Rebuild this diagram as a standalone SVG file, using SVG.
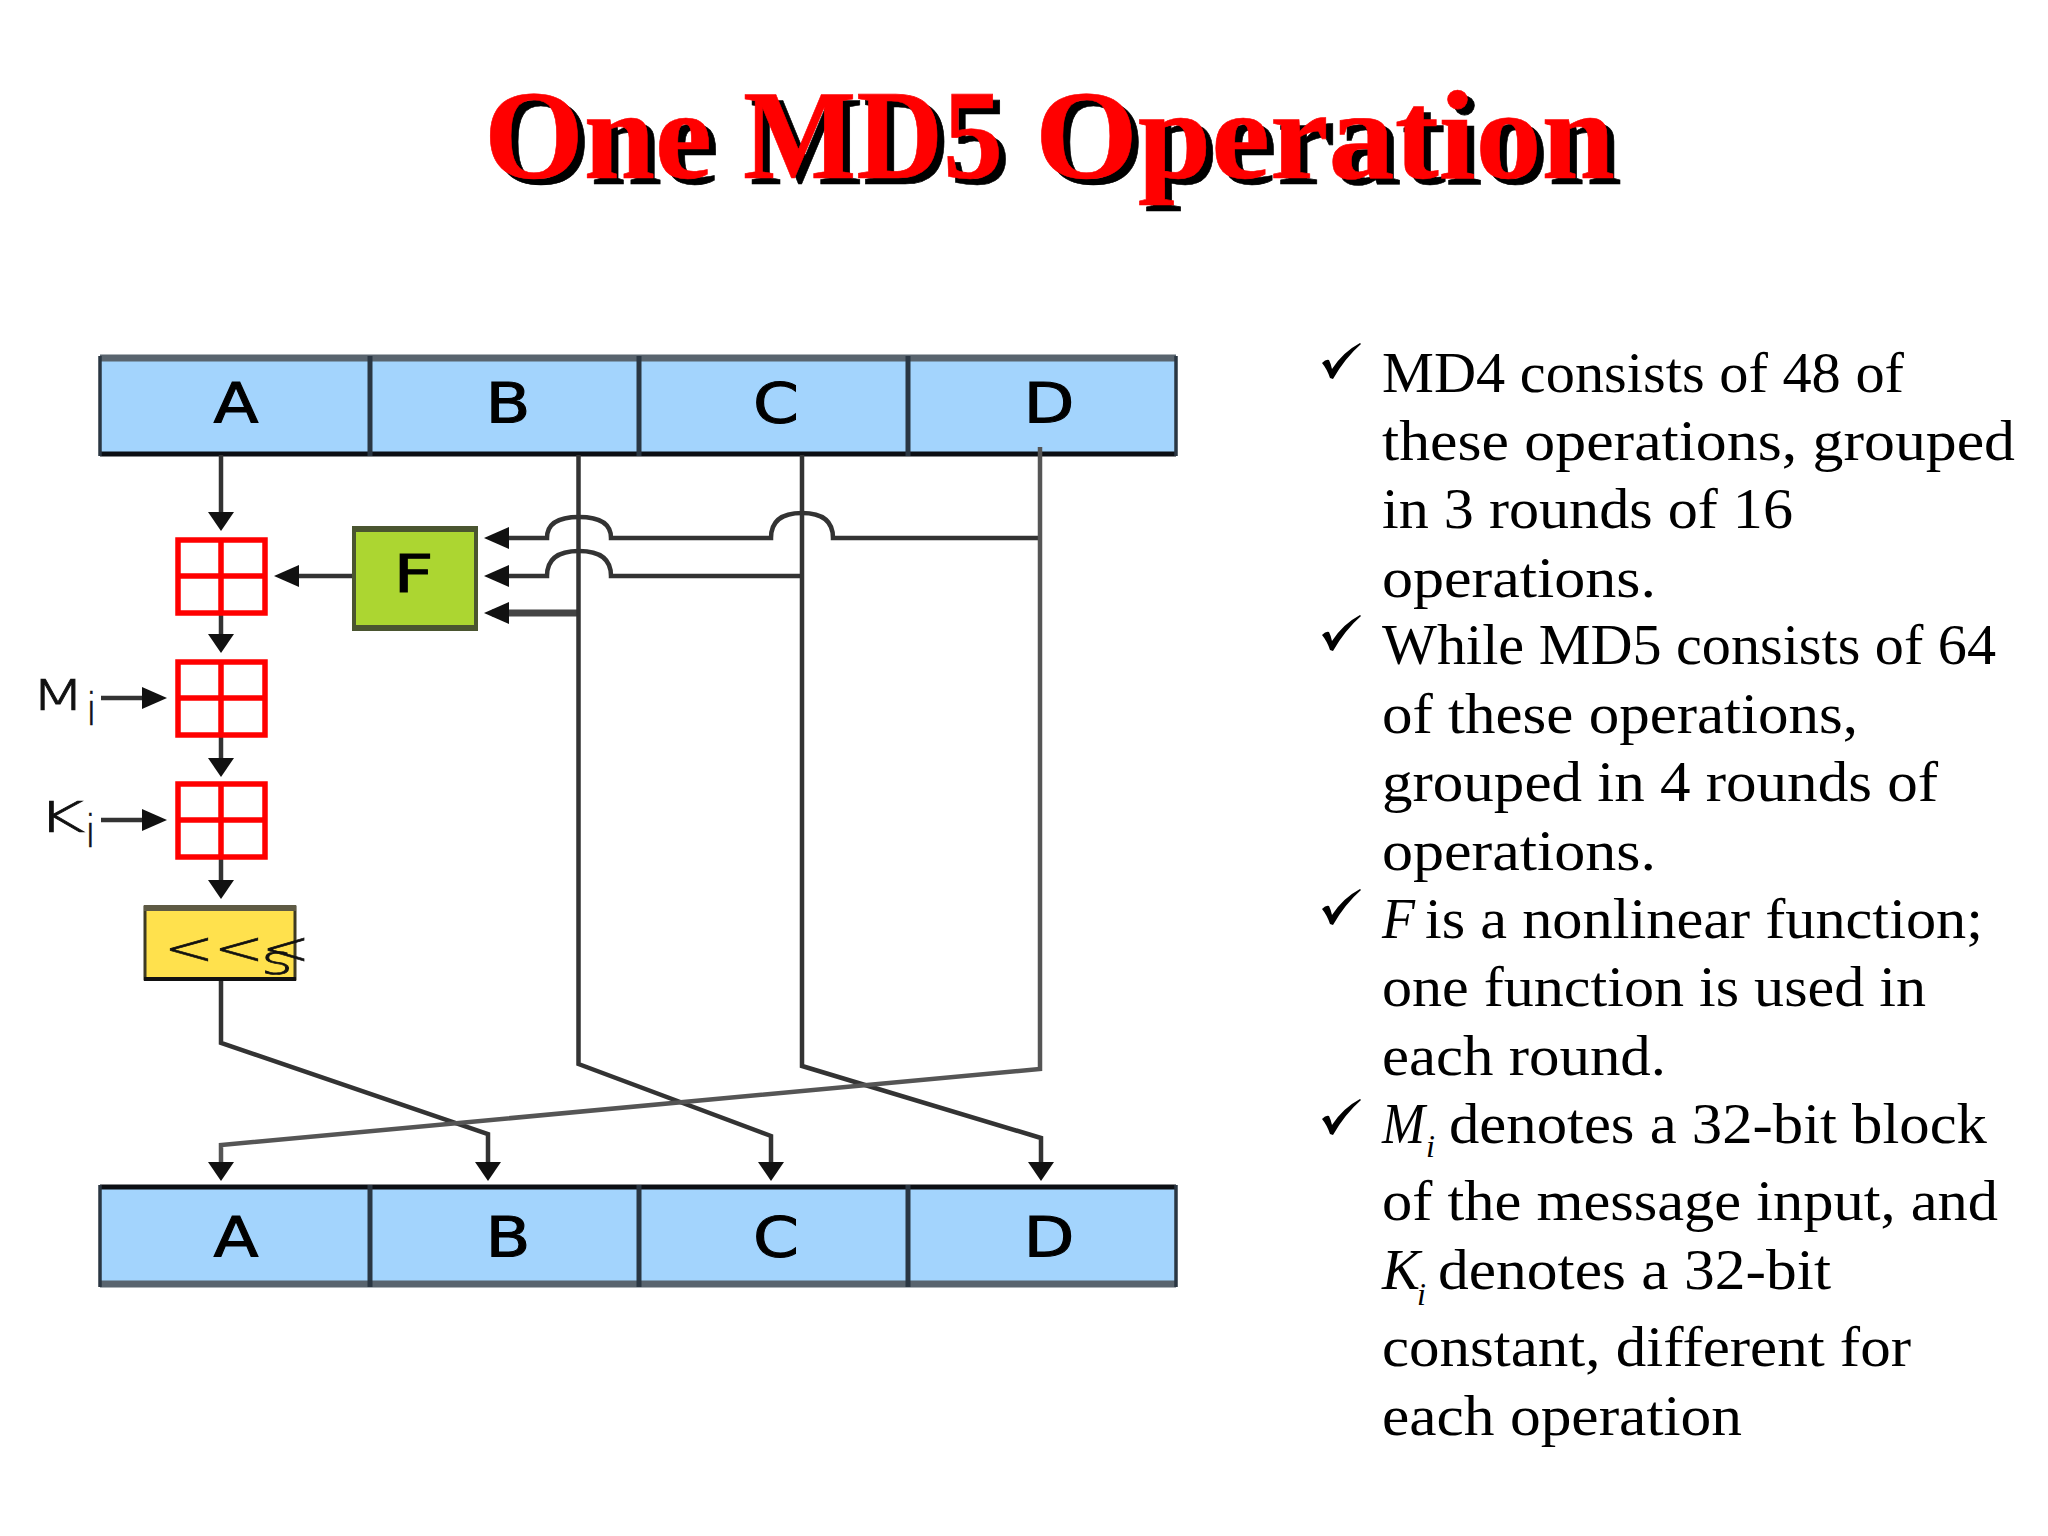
<svg xmlns="http://www.w3.org/2000/svg" width="2048" height="1536" viewBox="0 0 2048 1536">
<style>
.cell{fill:#a3d4fd}
.edgeD{stroke:#59646e;stroke-width:7;fill:none}
.edgeK{stroke:#0c0f14;stroke-width:5;fill:none}
.div{stroke:#2a3642;stroke-width:5;fill:none}
.lbl{font-family:"DejaVu Sans",sans-serif;font-size:55px;fill:#000;stroke:#000;stroke-width:1}
.thin{font-family:"DejaVu Sans",sans-serif;font-weight:200;fill:#111;stroke:#111;stroke-width:.7}
.adder{fill:#fff;stroke:#f00;stroke-width:5.500}
.adder2{fill:none;stroke:#f00;stroke-width:5.500}
.body{font-family:"Liberation Serif",serif;font-size:58px;fill:#000}
.it{font-style:italic}
.c{fill:none;stroke:#333;stroke-width:4.500}
.title{font-family:"Liberation Serif",serif;font-weight:bold;font-size:128px;fill:#f00;stroke:#f00;stroke-width:.6;filter:drop-shadow(7px 6px 0 #000)}
</style>
<defs>
<marker id="av" markerUnits="userSpaceOnUse" markerWidth="30" markerHeight="30" refX="11" refY="13" orient="auto" overflow="visible"><path d="M0 0L19 13L0 26Z" fill="#111"/></marker>
<marker id="ah" markerUnits="userSpaceOnUse" markerWidth="30" markerHeight="30" refX="17" refY="11" orient="auto" overflow="visible"><path d="M0 0L25 11L0 22Z" fill="#111"/></marker>
<path id="tick" d="M-9 -15Q-5 -19 -2 -18Q0 -14 1 -9Q12 -26 29 -35L30 -34Q14 -20 2 1L-1 0Q-4 -9 -9 -15Z" fill="#000"/>
</defs>
<rect width="2048" height="1536" fill="#fff"/>
<text id="title" class="title" y="178"><tspan x="484" textLength="228" lengthAdjust="spacingAndGlyphs">One</tspan> <tspan x="743" textLength="260" lengthAdjust="spacingAndGlyphs">MD5</tspan> <tspan x="1035" textLength="580" lengthAdjust="spacingAndGlyphs">Operation</tspan></text>

<g id="top-A"><rect class="cell" x="100" y="356" width="270" height="98"/><text class="lbl" x="213.500" y="422" textLength="45" lengthAdjust="spacingAndGlyphs">A</text></g>
<g id="top-B"><rect class="cell" x="370" y="356" width="269" height="98"/><text class="lbl" x="485.500" y="422" textLength="45" lengthAdjust="spacingAndGlyphs">B</text></g>
<g id="top-C"><rect class="cell" x="639" y="356" width="269" height="98"/><text class="lbl" x="753" y="422" textLength="46" lengthAdjust="spacingAndGlyphs">C</text></g>
<g id="top-D"><rect class="cell" x="908" y="356" width="268" height="98"/><text class="lbl" x="1023.500" y="422" textLength="51" lengthAdjust="spacingAndGlyphs">D</text></g>
<g id="top-frame">
<path class="edgeD" d="M100 358H1176"/><path class="edgeK" d="M100 454H1176"/>
<path class="div" d="M370 356V456M639 356V456M908 356V456"/>
<path class="div" style="stroke-width:3.500" d="M100 356V456M1176 356V456"/>
</g>

<g id="bottom-A"><rect class="cell" x="100" y="1186" width="270" height="98"/><text class="lbl" x="213.500" y="1256" textLength="45" lengthAdjust="spacingAndGlyphs">A</text></g>
<g id="bottom-B"><rect class="cell" x="370" y="1186" width="269" height="98"/><text class="lbl" x="485.500" y="1256" textLength="45" lengthAdjust="spacingAndGlyphs">B</text></g>
<g id="bottom-C"><rect class="cell" x="639" y="1186" width="269" height="98"/><text class="lbl" x="753" y="1256" textLength="46" lengthAdjust="spacingAndGlyphs">C</text></g>
<g id="bottom-D"><rect class="cell" x="908" y="1186" width="268" height="98"/><text class="lbl" x="1023.500" y="1256" textLength="51" lengthAdjust="spacingAndGlyphs">D</text></g>
<g id="bottom-frame">
<path class="edgeK" d="M100 1187H1176"/><path class="edgeD" d="M100 1284H1176"/>
<path class="div" d="M370 1185V1287M639 1185V1287M908 1185V1287"/>
<path class="div" style="stroke-width:3.500" d="M100 1185V1287M1176 1185V1287"/>
</g>

<g id="connectors">
<path class="c" d="M221 455V523" marker-end="url(#av)"/>
<path class="c" d="M221 614V645" marker-end="url(#av)"/>
<path class="c" d="M221 736V769" marker-end="url(#av)"/>
<path class="c" d="M221 858V891" marker-end="url(#av)"/>
<path class="c" d="M354 576H282" marker-end="url(#ah)"/>
<path class="c" d="M101 698H159" marker-end="url(#ah)"/>
<path class="c" d="M101 820H159" marker-end="url(#ah)"/>
<path class="c" d="M1040 538H833Q833 513 802 513Q771 513 771 538H611Q611 517 579 517Q547 517 547 538H492" marker-end="url(#ah)"/>
<path class="c" d="M802 576H611Q611 551 579 551Q547 551 547 576H492" marker-end="url(#ah)"/>
<path class="c" style="stroke:#444;stroke-width:7" d="M578 613H492" marker-end="url(#ah)"/>
<path class="c" d="M221 980V1043L488 1134V1173" marker-end="url(#av)"/>
<path class="c" d="M578.500 455V1064L771 1136V1173" marker-end="url(#av)"/>
<path class="c" d="M802 455V1066L1041 1138V1173" marker-end="url(#av)"/>
<path class="c" d="M1040 447V1069L221 1145V1173" style="stroke:#555" marker-end="url(#av)"/>
</g>

<g id="adder-1"><rect class="adder" x="178" y="540" width="87" height="73"/><path class="adder2" d="M221 540V613M178 576H265"/></g>
<g id="adder-2"><rect class="adder" x="178" y="662" width="87" height="73"/><path class="adder2" d="M221 662V735M178 698H265"/></g>
<g id="adder-3"><rect class="adder" x="178" y="784" width="87" height="73"/><path class="adder2" d="M221 784V857M178 820H265"/></g>

<g id="func-F">
<rect x="354" y="528" width="122" height="101" fill="#acd631" stroke="#4a5530" stroke-width="4"/>
<path d="M354 529H476M354 628H476" stroke="#4a5530" stroke-width="6"/>
<text class="lbl" x="393.500" y="592" textLength="40" lengthAdjust="spacingAndGlyphs" style="font-size:52px">F</text>
</g>

<g id="rotate">
<rect x="145" y="907" width="150" height="72" fill="#ffe14d" stroke="#3e3a22" stroke-width="3"/>
<path d="M144 908H296" stroke="#5e5a44" stroke-width="6"/>
<path d="M144 979H296" stroke="#111" stroke-width="4"/>
<text class="thin" x="164" y="964" font-size="46" textLength="100" lengthAdjust="spacingAndGlyphs">&lt;&lt;</text>
<text class="thin" x="262" y="964" font-size="46" textLength="48" lengthAdjust="spacingAndGlyphs">&lt;</text>
<text class="thin" x="261" y="974" font-size="40" textLength="32" lengthAdjust="spacingAndGlyphs">s</text>
</g>

<g id="label-Mi">
<text class="thin" x="31" y="710" font-size="43" textLength="54" lengthAdjust="spacingAndGlyphs">M</text>
<text class="thin" x="86" y="725" font-size="44" textLength="11" lengthAdjust="spacingAndGlyphs">i</text>
</g>
<g id="label-Ki">
<text class="thin" x="37" y="832" font-size="43" textLength="48" lengthAdjust="spacingAndGlyphs">K</text>
<text class="thin" x="85" y="847" font-size="44" textLength="11" lengthAdjust="spacingAndGlyphs">i</text>
</g>

<g id="bullets">
<use href="#tick" x="1331" y="378"/>
<use href="#tick" x="1331" y="650"/>
<use href="#tick" x="1331" y="924"/>
<use href="#tick" x="1331" y="1134"/>
</g>
<g id="body">
<text class="body" x="1382" y="392" textLength="522" lengthAdjust="spacingAndGlyphs">MD4 consists of 48 of</text>
<text class="body" x="1382" y="460" textLength="633" lengthAdjust="spacingAndGlyphs">these operations, grouped</text>
<text class="body" x="1382" y="528" textLength="411" lengthAdjust="spacingAndGlyphs">in 3 rounds of 16</text>
<text class="body" x="1382" y="597" textLength="274" lengthAdjust="spacingAndGlyphs">operations.</text>
<text class="body" x="1382" y="664" textLength="614" lengthAdjust="spacingAndGlyphs">While MD5 consists of 64</text>
<text class="body" x="1382" y="733" textLength="476" lengthAdjust="spacingAndGlyphs">of these operations,</text>
<text class="body" x="1382" y="801" textLength="556" lengthAdjust="spacingAndGlyphs">grouped in 4 rounds of</text>
<text class="body" x="1382" y="870" textLength="274" lengthAdjust="spacingAndGlyphs">operations.</text>
<text class="body it" x="1382" y="938" textLength="33" lengthAdjust="spacingAndGlyphs">F</text>
<text class="body" x="1425" y="938" textLength="558" lengthAdjust="spacingAndGlyphs">is a nonlinear function;</text>
<text class="body" x="1382" y="1006" textLength="544" lengthAdjust="spacingAndGlyphs">one function is used in</text>
<text class="body" x="1382" y="1075" textLength="284" lengthAdjust="spacingAndGlyphs">each round.</text>
<text class="body it" x="1382" y="1143" textLength="43" lengthAdjust="spacingAndGlyphs">M</text>
<text class="body it" x="1426" y="1157" style="font-size:32px">i</text>
<text class="body" x="1449" y="1143" textLength="538" lengthAdjust="spacingAndGlyphs">denotes a 32-bit block</text>
<text class="body" x="1382" y="1220" textLength="616" lengthAdjust="spacingAndGlyphs">of the message input, and</text>
<text class="body it" x="1382" y="1289" textLength="38" lengthAdjust="spacingAndGlyphs">K</text>
<text class="body it" x="1417" y="1305" style="font-size:32px">i</text>
<text class="body" x="1438" y="1289" textLength="393" lengthAdjust="spacingAndGlyphs">denotes a 32-bit</text>
<text class="body" x="1382" y="1366" textLength="529" lengthAdjust="spacingAndGlyphs">constant, different for</text>
<text class="body" x="1382" y="1435" textLength="360" lengthAdjust="spacingAndGlyphs">each operation</text>
</g>
</svg>
